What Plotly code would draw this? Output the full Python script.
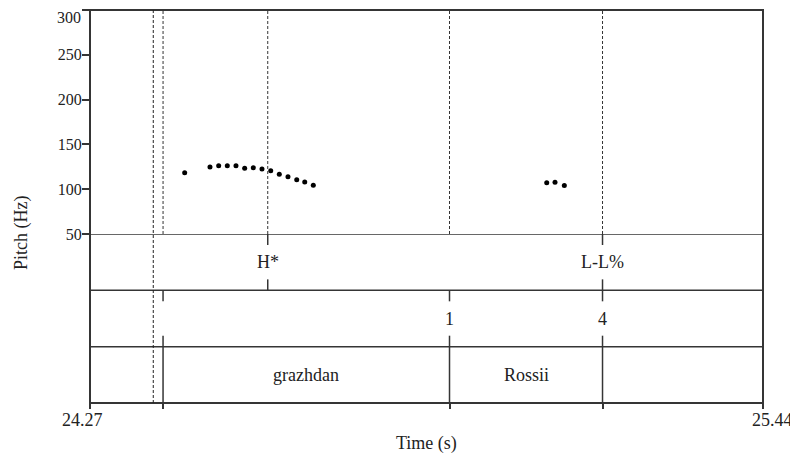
import plotly.graph_objects as go

# ---- data ----
pitch_time = [24.4346, 24.4786, 24.4937, 24.5087, 24.5238, 24.5389, 24.5539,
              24.5690, 24.5842, 24.5991, 24.6142, 24.6294, 24.6433, 24.6582,
              25.0640, 25.0784, 25.0946]
pitch_hz = [118.4, 124.8, 126.2, 126.2, 126.2, 123.3, 124.0,
            122.5, 120.6, 116.6, 114.0, 110.6, 108.0, 104.4,
            107.3, 107.7, 104.0]

x_range = [24.27, 25.44]
y_ticks = [50, 100, 150, 200, 250, 300]
y_tick_text = ["50", "100", "150", "200", "250", "300"]

utterance_start = 24.38

tone_times = [24.579, 25.161]
tone_labels = ["H*", "L-L%"]

break_times = [24.397, 24.895, 25.161]
break_labels = ["", "1", "4"]

word_bounds = [24.397, 24.895, 25.161]
word_labels = ["grazhdan", "Rossii"]

FONT = "Liberation Serif, Times New Roman, serif"
LINE = "#353535"
TXT = "#222222"

fig = go.Figure()
fig.add_trace(go.Scatter(x=pitch_time, y=pitch_hz, mode="markers",
                         marker=dict(color="black", size=5),
                         xaxis="x", yaxis="y", showlegend=False,
                         hoverinfo="skip"))

shapes = []
# frame
shapes.append(dict(type="rect", xref="paper", yref="paper", x0=0, x1=1, y0=0, y1=1,
                   line=dict(color=LINE, width=2), layer="above"))
# tier boundaries
for yv in [1, 2, 3]:
    shapes.append(dict(type="line", xref="paper", yref="y2", x0=0, x1=1, y0=yv, y1=yv,
                       line=dict(color=LINE, width=1.5)))
# utterance start dashed line full height
shapes.append(dict(type="line", xref="x", yref="paper", x0=utterance_start, x1=utterance_start,
                   y0=0, y1=1, line=dict(color="#222", width=1, dash="3px,2px")))
# dashed lines in pitch area
for t in sorted(set(tone_times + break_times + word_bounds)):
    shapes.append(dict(type="line", xref="x", yref="y", x0=t, x1=t, y0=50, y1=300,
                       line=dict(color="#333", width=1, dash="3px,2px")))
tk = 0.195
# tone tier ticks
for t in tone_times:
    shapes.append(dict(type="line", xref="x", yref="y2", x0=t, x1=t, y0=3, y1=3 - tk,
                       line=dict(color=LINE, width=1.5)))
    shapes.append(dict(type="line", xref="x", yref="y2", x0=t, x1=t, y0=2, y1=2 + tk,
                       line=dict(color=LINE, width=1.5)))
# break tier ticks
for t in break_times:
    shapes.append(dict(type="line", xref="x", yref="y2", x0=t, x1=t, y0=2, y1=2 - tk,
                       line=dict(color=LINE, width=1.5)))
    shapes.append(dict(type="line", xref="x", yref="y2", x0=t, x1=t, y0=1, y1=1 + tk,
                       line=dict(color=LINE, width=1.5)))
# word boundaries
for t in word_bounds:
    shapes.append(dict(type="line", xref="x", yref="y2", x0=t, x1=t, y0=0, y1=1,
                       line=dict(color=LINE, width=1.5)))

ann = []
for t, lab in zip(tone_times, tone_labels):
    ann.append(dict(x=t, y=2.5, xref="x", yref="y2", text=lab, showarrow=False,
                    font=dict(family=FONT, size=18, color=TXT)))
for t, lab in zip(break_times, break_labels):
    if lab:
        ann.append(dict(x=t, y=1.5, xref="x", yref="y2", text=lab, showarrow=False,
                        font=dict(family=FONT, size=18, color=TXT)))
for i, lab in enumerate(word_labels):
    mid = (word_bounds[i] + word_bounds[i + 1]) / 2
    ann.append(dict(x=mid, y=0.5, xref="x", yref="y2", text=lab, showarrow=False,
                    font=dict(family=FONT, size=18, color=TXT)))
# top y tick label (kept inside the figure so it is not clipped)
ann.append(dict(x=0, y=y_ticks[-1], xref="paper", yref="y", text=y_tick_text[-1],
                showarrow=False, xanchor="right", yanchor="middle", xshift=-8, yshift=-7,
                borderpad=0, font=dict(family=FONT, size=16, color=TXT)))
# x range labels
ann.append(dict(x=x_range[0], y=0, xref="x", yref="paper", text=f"{x_range[0]:.2f}",
                showarrow=False, xshift=-8, yshift=-17, yanchor="middle",
                font=dict(family=FONT, size=18, color=TXT)))
ann.append(dict(x=x_range[1], y=0, xref="x", yref="paper", text=f"{x_range[1]:.2f}",
                showarrow=False, xshift=9, yshift=-17, yanchor="middle",
                font=dict(family=FONT, size=18, color=TXT)))
ann.append(dict(x=0.5, y=0, xref="paper", yref="paper", text="Time (s)", showarrow=False,
                yshift=-40, yanchor="middle", font=dict(family=FONT, size=18, color=TXT)))
ann.append(dict(x=0, y=0.4326, xref="paper", yref="paper", text="Pitch (Hz)", showarrow=False,
                xshift=-68, textangle=-90, xanchor="center", yanchor="middle",
                font=dict(family=FONT, size=18, color=TXT)))

fig.update_layout(
    width=790, height=448,
    margin=dict(l=82, r=35, t=2, b=53, autoexpand=False),
    paper_bgcolor="white", plot_bgcolor="white",
    showlegend=False,
    xaxis=dict(range=x_range, anchor="y2", showgrid=False, zeroline=False, showline=False,
               automargin=False,
               tickmode="array", tickvals=[x_range[0]] + word_bounds + [x_range[1]],
               ticks="outside", ticklen=5, tickwidth=1.5, tickcolor=LINE,
               showticklabels=False),
    yaxis=dict(domain=[0.43, 1], range=[50, 300], anchor="x", showgrid=False, zeroline=False,
               automargin=False,
               showline=False, tickmode="array", tickvals=y_ticks,
               ticktext=y_tick_text[:-1] + [""], ticks="outside",
               ticklen=7, tickwidth=1.5, tickcolor=LINE, ticklabelstandoff=-3,
               tickfont=dict(family=FONT, size=16, color=TXT)),
    yaxis2=dict(domain=[0, 0.43], range=[0, 3], anchor="x", visible=False),
    shapes=shapes, annotations=ann,
)

fig.write_html("out.html")
